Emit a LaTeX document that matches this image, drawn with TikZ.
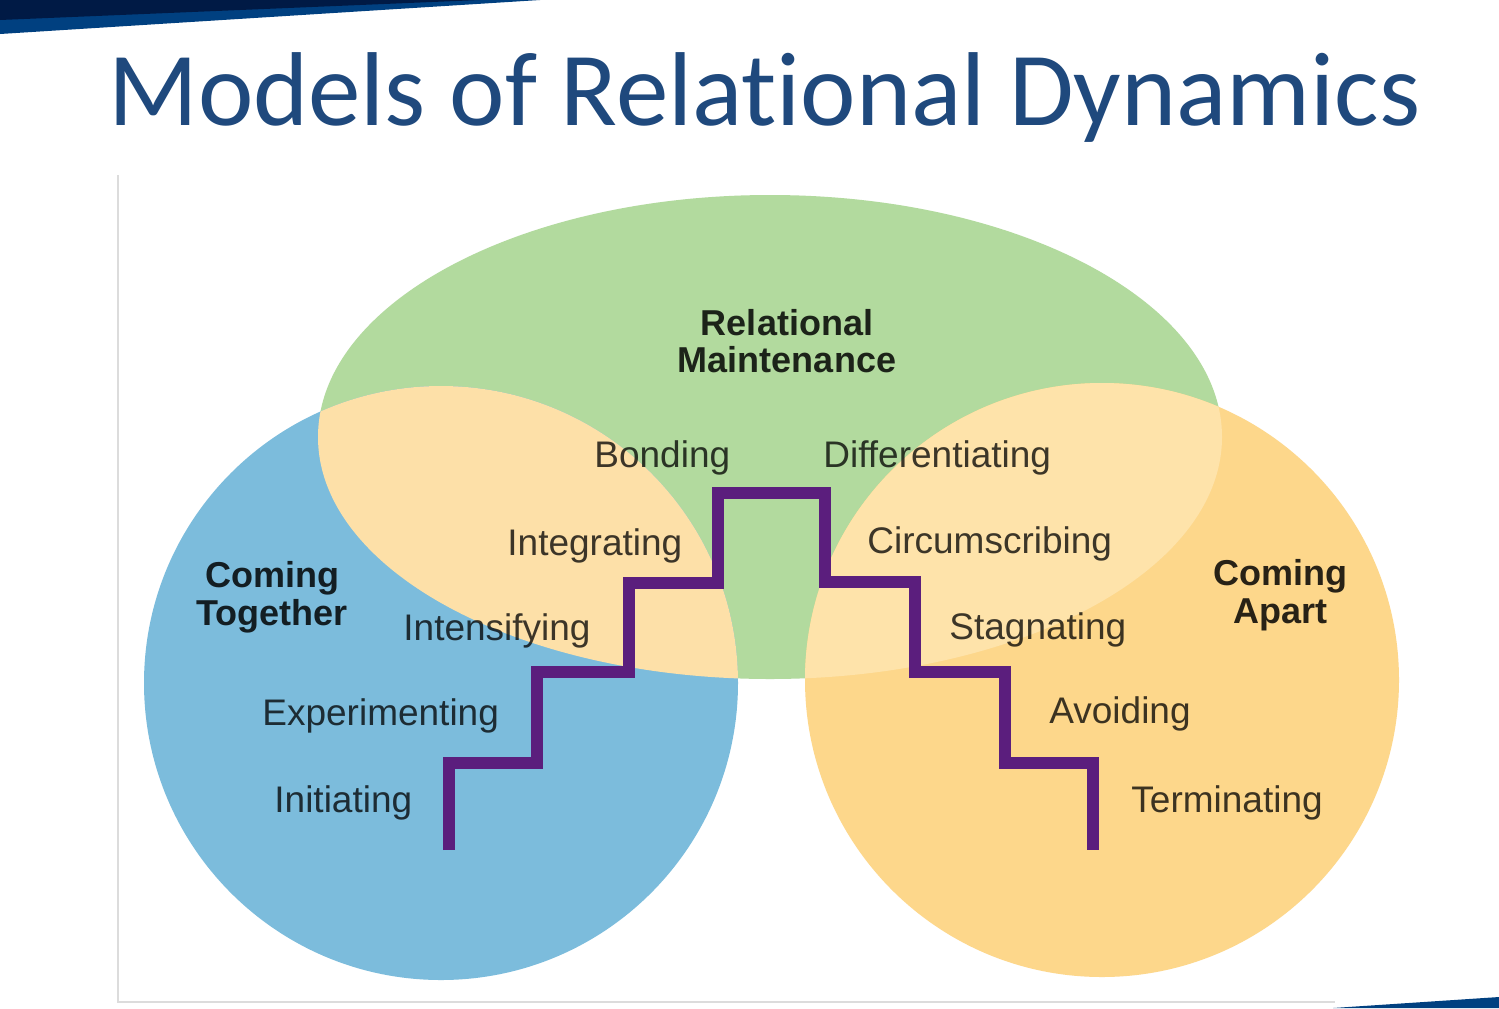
\documentclass[tikz,border=0pt]{standalone}
\usepackage{fontspec}
\setmainfont{Liberation Sans}
\newfontfamily\titlefont[Ligatures=NoCommon]{Carlito}
\definecolor{relgreen}{HTML}{B2DA9E}
\definecolor{togblue}{HTML}{7CBCDC}
\definecolor{apartorange}{HTML}{FDD78B}
\definecolor{lensleft}{HTML}{FDE0A8}
\definecolor{lensright}{HTML}{FEE3AA}
\definecolor{stairpurple}{HTML}{5B1E7D}
\definecolor{titleblue}{HTML}{1F497D}
\definecolor{barnavy}{HTML}{001A45}
\definecolor{barblue}{HTML}{004080}
\definecolor{framegray}{HTML}{DCDCDC}
\begin{document}
\begin{tikzpicture}
[x=0.5pt,y=-0.5pt,
 lbl/.style={anchor=base west,inner sep=0pt,text=black,text opacity=0.76,font=\fontsize{18.5}{22}\selectfont},
 hd/.style={align=center,inner sep=0pt,text=black,text opacity=0.84,font=\bfseries\fontsize{18}{18.8}\selectfont},
 stair/.style={draw=stairpurple,line width=6pt,line join=miter}]
\useasboundingbox[fill=white] (0,0) rectangle (1499,1008);
\fill[barblue] (0,0) -- (540,0) -- (0,34) -- cycle;
\fill[barnavy] (0,0) -- (480,0) -- (0,20) -- cycle;
\fill[barblue] (1333,1008) -- (1499,997) -- (1499,1008) -- cycle;
\draw[framegray,line width=0.8pt] (118,175) -- (118,1002) -- (1335,1002);
\node[anchor=base west,inner sep=0pt,text=titleblue,font=\titlefont\fontsize{52.5}{60}\selectfont] (title) at (108,125) {Models of Relational Dynamics};
\fill[relgreen] (770,437) ellipse [x radius=226pt,y radius=121pt];
\fill[togblue] (441,683) circle [radius=148.5pt];
\fill[apartorange] (1102,680) circle [radius=148.5pt];
\begin{scope}
\clip (770,437) ellipse [x radius=226pt,y radius=121pt];
\fill[lensleft] (441,683) circle [radius=148.5pt];
\fill[lensright] (1102,680) circle [radius=148.5pt];
\end{scope}
\draw[stair] (449,850) |- (537,763) |- (629,672) |- (718,583) |- (825,493) |- (915,582) |- (1005,672) |- (1093,763) -- (1093,850);
\node[hd] (maint) at (787,341) {Relational\\Maintenance};
\node[hd] (together) at (272,597) {Coming\\Together};
\node[hd] (apart) at (1280,595) {Coming\\Apart};
\node[lbl] (bond) at (594,467) {Bonding};\node[lbl] (diff) at (823,467) {Differentiating};
\node[lbl] (integ) at (507,555) {Integrating};\node[lbl] (circ) at (867,553) {Circumscribing};
\node[lbl] (intens) at (403,640) {Intensifying};\node[lbl] (stag) at (949,639) {Stagnating};
\node[lbl] (exper) at (262,725) {Experimenting};\node[lbl] (avoid) at (1049,723) {Avoiding};
\node[lbl] (init) at (274,812) {Initiating};\node[lbl] (term) at (1131,812) {Terminating};
\end{tikzpicture}
\end{document}
